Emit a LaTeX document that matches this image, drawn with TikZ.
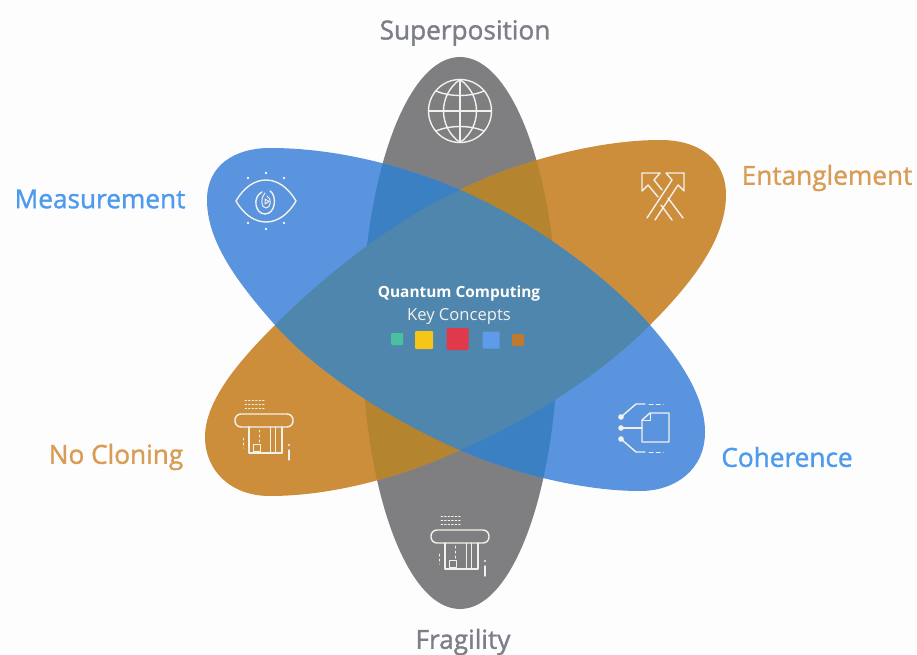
\documentclass[tikz,border=0pt]{standalone}
\usepackage{fontspec}
\setmainfont{Open Sans}
\newfontfamily\labfont[FakeBold=1.3]{Open Sans}
\definecolor{bgc}{HTML}{FDFDFE}
\definecolor{greyp}{HTML}{7F7F81}
\definecolor{bluep}{HTML}{5A93DE}
\definecolor{orangep}{HTML}{CC8E3A}
\definecolor{bluegrey}{HTML}{3A80C3}
\definecolor{orangegrey}{HTML}{B5842F}
\definecolor{centrec}{HTML}{4F86AD}
\definecolor{greylab}{HTML}{7C7F88}
\definecolor{orangelab}{HTML}{D99C55}
\definecolor{bluelab}{HTML}{4E9BEE}
\definecolor{iconw}{HTML}{F3F1EC}
\definecolor{sw1}{HTML}{4CBFA0}
\definecolor{sw2}{HTML}{F5C518}
\definecolor{sw3}{HTML}{E0394B}
\definecolor{sw4}{HTML}{5E9BE8}
\definecolor{sw5}{HTML}{C07A30}
\newcommand{\bluepath}{(207,200) .. controls (207,165) and (235,148) .. (270,148)
 .. controls (340,148) and (410,168) .. (460,190)
 .. controls (540,225) and (610,280) .. (650,325)
 .. controls (685,365) and (705,400) .. (705,432)
 .. controls (705,470) and (675,491) .. (640,491)
 .. controls (580,491) and (510,472) .. (460,450)
 .. controls (380,415) and (310,365) .. (275,325)
 .. controls (235,280) and (207,240) .. (207,200) -- cycle}
\newcommand{\orangepath}{(726,195) .. controls (726,240) and (690,285) .. (650,325)
 .. controls (600,375) and (530,420) .. (460,450)
 .. controls (400,478) and (330,496) .. (270,496)
 .. controls (230,496) and (205,470) .. (205,437)
 .. controls (205,400) and (240,360) .. (275,325)
 .. controls (320,280) and (390,222) .. (460,190)
 .. controls (520,160) and (600,140) .. (660,140)
 .. controls (700,140) and (726,160) .. (726,195) -- cycle}
\newcommand{\greypath}{(460,333) ellipse [x radius=98, y radius=276]}
\tikzset{
 lab/.style={font=\labfont\fontsize{26.2}{30}\selectfont, inner sep=0pt},
 icon/.style={draw=iconw, line width=1.4pt, fill=none, line cap=round, line join=round},
 thinicon/.style={icon, line width=1pt},
 swatch/.style={inner sep=0pt, rounded corners=1pt, draw=none},
 pics/cardicon/.style={code={
  \draw[icon, rounded corners=6pt] (-29,-17) rectangle (29,-4);
  \draw[icon] (-15,-4) -- (-15,22) -- (18,22) -- (18,-4);
  \draw[thinicon] (6,-4) -- (6,22) (11,-4) -- (11,22);
  \draw[thinicon] (-11,13) rectangle (-4,20);
  \draw[thinicon, dash pattern=on 1.5pt off 2pt] (-19,-31) -- (0,-31) (-19,-27) -- (0,-27) (-19,-23) -- (0,-23);
  \draw[thinicon, dash pattern=on 2pt off 3pt] (-5,-1) -- (-5,11);
  \draw[thinicon, dash pattern=on 2pt off 3pt] (-21,7) -- (-21,17);
  \draw[icon] (25,19) -- (25,29);
  \fill[iconw] (25,14) circle (1.2);
 }}
}
\begin{document}
\begin{tikzpicture}[x=1pt,y=-1pt]
\useasboundingbox (0,0) rectangle (917,655);
\fill[bgc] (0,0) rectangle (917,655);
% petals
\fill[greyp] \greypath;
\fill[orangep] \orangepath;
\fill[bluep] \bluepath;
\begin{scope}\clip \greypath; \fill[orangegrey] \orangepath; \end{scope}
\begin{scope}\clip \greypath; \fill[bluegrey] \bluepath; \end{scope}
\begin{scope}\clip \bluepath; \fill[centrec] \orangepath; \end{scope}
% globe
\begin{scope}[shift={(460,111)}]
 \draw[icon] (0,0) circle (31.5);
 \draw[icon] (0,-31.5) -- (0,31.5) (-31.5,0) -- (31.5,0);
 \draw[icon] (0,-31.5) .. controls (-22,-16) and (-22,16) .. (0,31.5);
 \draw[icon] (0,-31.5) .. controls (22,-16) and (22,16) .. (0,31.5);
 \draw[icon] (-24,-20) .. controls (-10,-14) and (10,-14) .. (24,-20);
 \draw[icon] (-24,20) .. controls (-10,14) and (10,14) .. (24,20);
\end{scope}
% eye
\begin{scope}[shift={(266,201)}]
 \draw[icon] (-30,0) .. controls (-14,-28) and (14,-28) .. (30,0) .. controls (14,28) and (-14,28) .. (-30,0) -- cycle;
 \draw[icon] (-4,-9) .. controls (-14,-4) and (-11,13) .. (-1,13) .. controls (10,13) and (11,-6) .. (4,-10);
 \draw[thinicon] (-1,-8) .. controls (-6,-3) and (-5,7) .. (0,7) .. controls (5,7) and (6,-3) .. (1,-5);
 \draw[thinicon] (-1,-2) -- (-1,3) -- (3,0.5) -- cycle;
 \foreach \a/\b in {0/-28,0/28,-18/-23,18/-23,-18/22,18/22}
  \fill[iconw] (\a,\b) circle (1.3);
\end{scope}
% entanglement
\begin{scope}[shift={(663,196)}]
 \draw[icon] (21,-23) -- (3,-23) -- (9,-16) -- (-16,22);
 \draw[icon] (21,-23) -- (21,-5) -- (15,-11) -- (-8,24);
 \draw[icon] (-21,-23) -- (-3,-23) -- (-9,-16) -- (-1,-6);
 \draw[icon] (-21,-23) -- (-21,-5) -- (-15,-11) -- (-5,1);
 \draw[icon] (5,2) -- (20,22);
 \draw[icon] (-2,9) -- (9,24);
\end{scope}
% document tree
\begin{scope}[shift={(642,427)}]
 \draw[icon] (0,-7) -- (8,-14) -- (27,-14) -- (27,15) -- (0,15) -- cycle;
 \draw[thinicon] (0,-7) -- (8,-7) -- (8,-14);
 \draw[icon] (-21,1) -- (0,1);
 \draw[icon] (-21,-10) -- (-6,-23) -- (3,-23);
 \draw[icon] (-21,12) -- (-6,25) -- (3,25);
 \draw[thinicon, dash pattern=on 4pt off 3pt] (7,-23) -- (21,-23) (7,25) -- (21,25);
 \foreach \b in {-10,1,12} \fill[iconw] (-21,\b) circle (2.8);
\end{scope}
% cards
\pic at (264,431) {cardicon};
\pic at (460,547) {cardicon};
% centre
\node[inner sep=0pt, text=white, font=\fontsize{15.4}{18}\selectfont\bfseries] (title) at (459,293) {Quantum Computing};
\node[inner sep=0pt, text=iconw, font=\fontsize{16.6}{19}\selectfont] (sub) at (459,316) {Key Concepts};
\node[swatch, fill=sw1, minimum size=12pt] (s1) at (397,339) {};
\node[swatch, fill=sw2, minimum size=18pt] (s2) at (424,340) {};
\node[swatch, fill=sw3, minimum size=22pt] (s3) at (457.5,339) {};
\node[swatch, fill=sw4, minimum size=17pt] (s4) at (491,340) {};
\node[swatch, fill=sw5, minimum size=12pt] (s5) at (518,340) {};
% labels
\node[lab, text=greylab] (l1) at (465,33) {Superposition};
\node[lab, text=orangelab] (l2) at (827,178) {Entanglement};
\node[lab, text=bluelab] (l3) at (100,199) {Measurement};
\node[lab, text=orangelab] (l4) at (116,457) {No Cloning};
\node[lab, text=bluelab] (l5) at (787,457) {Coherence};
\node[lab, text=greylab] (l6) at (463,642) {Fragility};
\end{tikzpicture}
\end{document}
